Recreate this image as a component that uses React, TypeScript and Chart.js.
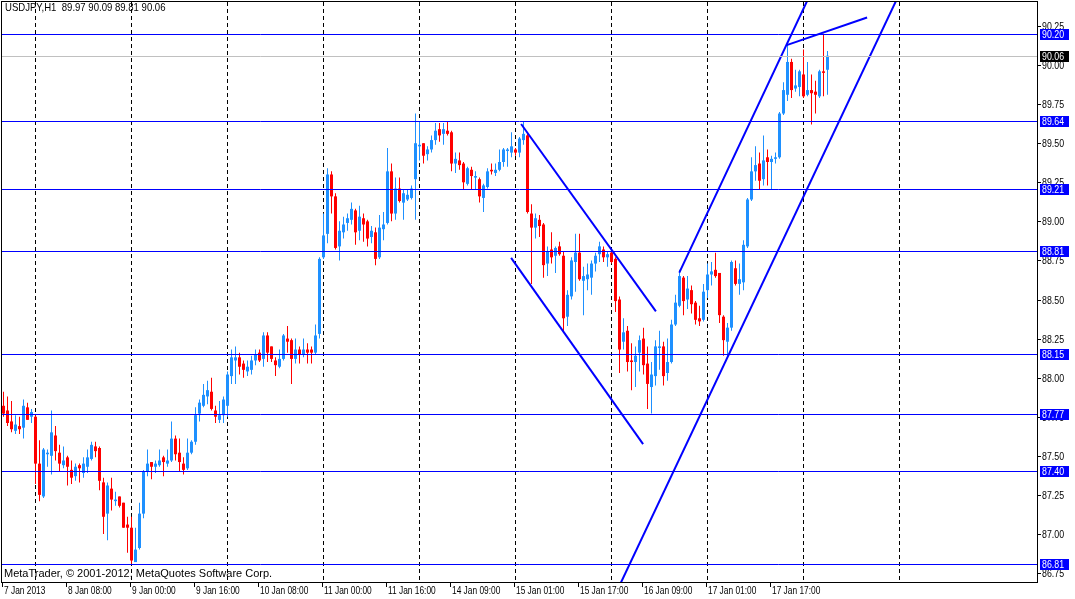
import React, { useEffect, useRef } from "react";
import { Chart, registerables } from "chart.js";

Chart.register(...registerables);

const TITLE = "USDJPY,H1  89.97 90.09 89.81 90.06";
const COPYRIGHT = "MetaTrader, © 2001-2012, MetaQuotes Software Corp.";

const OPEN = [
  87.82, 87.79, 87.72, 87.66, 87.69, 87.68, 87.81, 87.75, 87.75, 87.45,
  87.24, 87.51, 87.5, 87.63, 87.52, 87.44, 87.49, 87.41, 87.37, 87.44,
  87.39, 87.43, 87.48, 87.56, 87.55, 87.33, 87.13, 87.29, 87.21, 87.24,
  87.2, 87.06, 87.04, 86.82, 86.91, 87.13, 87.4, 87.46, 87.43, 87.44,
  87.49, 87.45, 87.47, 87.61, 87.52, 87.45, 87.42, 87.52, 87.59, 87.77,
  87.82, 87.88, 87.91, 87.79, 87.73, 87.76, 87.82, 88.01, 88.11, 88.13,
  88.09, 88.04, 88.05, 88.11, 88.16, 88.12, 88.27, 88.2, 88.11, 88.07,
  88.12, 88.25, 88.24, 88.12, 88.18, 88.15, 88.18, 88.18, 88.16, 88.28,
  88.77, 88.92, 89.3, 89.16, 88.84, 88.93, 88.99, 89.01, 89.07, 88.94,
  89.02, 89.0, 88.9, 88.93, 88.77, 88.95, 88.99, 89.32, 89.05, 89.21,
  89.12, 89.14, 89.15, 89.27, 89.48, 89.5, 89.43, 89.46, 89.52, 89.59,
  89.56, 89.58, 89.57, 89.37, 89.39, 89.37, 89.24, 89.33, 89.28, 89.27,
  89.15, 89.22, 89.33, 89.31, 89.33, 89.38, 89.45, 89.44, 89.46, 89.44,
  89.52, 89.55, 89.05, 88.96, 89.01, 88.98, 88.73, 88.82, 88.78, 88.84,
  88.78, 88.39, 88.52, 88.74, 88.8, 88.62, 88.63, 88.64, 88.73, 88.79,
  88.82, 88.77, 88.8, 88.76, 88.5, 88.23, 88.3, 88.11, 88.1, 88.16,
  88.25, 88.09, 87.94, 88.01, 88.19, 88.2, 88.03, 88.1, 88.34, 88.46,
  88.64, 88.5, 88.56, 88.48, 88.38, 88.37, 88.56, 88.66, 88.69, 88.67,
  88.39, 88.23, 88.32, 88.7, 88.6, 88.61, 88.84, 89.14, 89.32, 89.37,
  89.27, 89.41, 89.38, 89.4, 89.41, 89.69, 89.81, 90.02, 89.85, 89.86,
  89.94, 89.81, 89.84, 89.83, 89.8, 89.96, 89.97,
];

const HIGH = [
  87.91, 87.88, 87.85, 87.76, 87.75, 87.86, 87.84, 87.8, 87.76, 87.6,
  87.55, 87.54, 87.79, 87.69, 87.57, 87.56, 87.5, 87.47, 87.45, 87.45,
  87.49, 87.54, 87.59, 87.59, 87.56, 87.36, 87.33, 87.36, 87.27, 87.24,
  87.2, 87.11, 87.11, 87.04, 87.2, 87.41, 87.54, 87.46, 87.47, 87.54,
  87.5, 87.54, 87.72, 87.63, 87.61, 87.49, 87.61, 87.6, 87.81, 87.86,
  87.96, 87.98, 88.0, 87.82, 87.85, 87.88, 88.04, 88.18, 88.2, 88.16,
  88.11, 88.11, 88.14, 88.18, 88.18, 88.29, 88.29, 88.2, 88.13, 88.18,
  88.28, 88.33, 88.25, 88.25, 88.2, 88.25, 88.22, 88.2, 88.34, 88.77,
  89.05, 89.34, 89.32, 89.18, 89.0, 89.03, 89.05, 89.12, 89.08, 89.1,
  89.05, 89.01, 88.97, 88.96, 89.04, 89.06, 89.47, 89.37, 89.28, 89.28,
  89.2, 89.2, 89.23, 89.69, 89.64, 89.5, 89.48, 89.55, 89.63, 89.63,
  89.63, 89.64, 89.58, 89.44, 89.44, 89.38, 89.35, 89.35, 89.32, 89.28,
  89.24, 89.34, 89.37, 89.37, 89.46, 89.47, 89.47, 89.57, 89.47, 89.54,
  89.64, 89.57, 89.11, 89.05, 89.04, 88.99, 88.84, 88.93, 88.84, 88.87,
  88.81, 88.56, 88.77, 88.92, 88.92, 88.71, 88.73, 88.75, 88.8, 88.87,
  88.84, 88.81, 88.82, 88.77, 88.52, 88.38, 88.33, 88.22, 88.2, 88.27,
  88.32, 88.2, 88.1, 88.24, 88.3, 88.23, 88.25, 88.37, 88.53, 88.69,
  88.65, 88.65, 88.59, 88.49, 88.46, 88.6, 88.73, 88.74, 88.8, 88.67,
  88.4, 88.35, 88.75, 88.75, 88.73, 88.88, 89.15, 89.41, 89.48, 89.44,
  89.55, 89.46, 89.42, 89.44, 89.7, 89.89, 90.13, 90.04, 89.97, 89.97,
  90.1, 90.02, 89.94, 89.9, 89.97, 90.2, 90.09,
];

const LOW = [
  87.75, 87.69, 87.65, 87.64, 87.64, 87.61, 87.73, 87.71, 87.32, 87.21,
  87.23, 87.43, 87.38, 87.47, 87.4, 87.42, 87.31, 87.32, 87.34, 87.33,
  87.36, 87.39, 87.47, 87.49, 87.28, 87.0, 86.96, 87.15, 87.18, 87.17,
  87.04, 86.88, 86.81, 86.82, 86.9, 87.1, 87.37, 87.35, 87.39, 87.43,
  87.37, 87.43, 87.46, 87.47, 87.4, 87.38, 87.41, 87.51, 87.57, 87.72,
  87.81, 87.83, 87.79, 87.71, 87.71, 87.71, 87.75, 87.96, 87.96, 88.02,
  88.0, 88.01, 88.02, 88.08, 88.1, 88.07, 88.1, 88.1, 88.01, 88.06,
  88.11, 88.16, 87.96, 88.09, 88.09, 88.13, 88.09, 88.09, 88.15, 88.25,
  88.76, 88.86, 89.05, 88.82, 88.75, 88.89, 88.94, 88.98, 88.85, 88.88,
  88.87, 88.84, 88.86, 88.72, 88.76, 88.88, 88.98, 89.0, 89.01, 89.12,
  89.01, 89.13, 89.14, 89.01, 89.39, 89.37, 89.39, 89.44, 89.49, 89.51,
  89.49, 89.55, 89.32, 89.31, 89.33, 89.2, 89.23, 89.2, 89.2, 89.12,
  89.06, 89.21, 89.3, 89.29, 89.32, 89.35, 89.35, 89.41, 89.42, 89.41,
  89.49, 89.05, 88.6, 88.89, 88.9, 88.64, 88.65, 88.73, 88.67, 88.78,
  88.29, 88.33, 88.5, 88.55, 88.62, 88.4, 88.56, 88.53, 88.68, 88.74,
  88.74, 88.71, 88.73, 88.42, 88.03, 88.18, 88.04, 87.92, 87.94, 88.04,
  88.02, 87.8, 87.77, 87.95, 88.05, 87.95, 87.98, 88.09, 88.33, 88.45,
  88.4, 88.44, 88.41, 88.34, 88.33, 88.36, 88.51, 88.59, 88.64, 88.35,
  88.14, 88.14, 88.3, 88.59, 88.53, 88.56, 88.83, 89.13, 89.26, 89.2,
  89.23, 89.23, 89.2, 89.37, 89.4, 89.68, 89.77, 89.79, 89.83, 89.8,
  89.79, 89.8, 89.62, 89.69, 89.79, 89.8, 89.81,
];

const CLOSE = [
  87.77, 87.71, 87.67, 87.7, 87.67, 87.82, 87.73, 87.78, 87.45, 87.25,
  87.54, 87.52, 87.65, 87.53, 87.45, 87.47, 87.43, 87.36, 87.43, 87.42,
  87.45, 87.49, 87.57, 87.53, 87.34, 87.11, 87.31, 87.22, 87.22, 87.18,
  87.04, 87.04, 86.83, 86.9, 87.13, 87.4, 87.45, 87.43, 87.45, 87.47,
  87.46, 87.47, 87.61, 87.51, 87.46, 87.41, 87.52, 87.59, 87.76, 87.84,
  87.89, 87.92, 87.8, 87.75, 87.76, 87.86, 88.02, 88.13, 88.13, 88.07,
  88.05, 88.07, 88.11, 88.15, 88.11, 88.27, 88.16, 88.12, 88.08, 88.12,
  88.27, 88.23, 88.12, 88.18, 88.15, 88.18, 88.16, 88.16, 88.27, 88.76,
  88.91, 89.3, 89.16, 88.83, 88.94, 88.98, 89.02, 89.08, 88.93, 89.03,
  88.98, 88.89, 88.94, 88.76, 88.96, 88.98, 89.32, 89.05, 89.21, 89.13,
  89.18, 89.17, 89.21, 89.5, 89.49, 89.42, 89.46, 89.52, 89.58, 89.55,
  89.59, 89.56, 89.37, 89.4, 89.36, 89.25, 89.34, 89.29, 89.29, 89.16,
  89.23, 89.32, 89.32, 89.33, 89.38, 89.46, 89.46, 89.48, 89.44, 89.53,
  89.56, 89.06, 88.96, 89.02, 88.97, 88.72, 88.81, 88.77, 88.83, 88.79,
  88.38, 88.53, 88.75, 88.8, 88.63, 88.65, 88.66, 88.73, 88.78, 88.84,
  88.77, 88.79, 88.74, 88.49, 88.18, 88.29, 88.1, 88.1, 88.14, 88.24,
  88.08, 87.96, 88.02, 88.2, 88.2, 88.01, 88.1, 88.34, 88.48, 88.65,
  88.49, 88.57, 88.47, 88.37, 88.36, 88.55, 88.66, 88.68, 88.65, 88.4,
  88.24, 88.32, 88.74, 88.6, 88.63, 88.85, 89.14, 89.32, 89.36, 89.26,
  89.39, 89.38, 89.4, 89.41, 89.69, 89.84, 90.02, 89.84, 89.87, 89.96,
  89.8, 89.84, 89.82, 89.81, 89.96, 89.95, 90.06,
];

// bar indexes that carry a time label, and the labels
const TIME_INDEX = [0, 16, 32, 48, 64, 80, 96, 112, 128, 144, 160, 176, 192];
const TIME_LABELS = [
  "7 Jan 2013", "8 Jan 08:00", "9 Jan 00:00", "9 Jan 16:00", "10 Jan 08:00",
  "11 Jan 00:00", "11 Jan 16:00", "14 Jan 09:00", "15 Jan 01:00",
  "15 Jan 17:00", "16 Jan 09:00", "17 Jan 01:00", "17 Jan 17:00",
];
// vertical grid (day separators) at these bar indexes
const GRID_INDEX = [8, 32, 56, 80, 104, 128, 152, 176, 200, 224];

const PRICE_TICKS = [
  90.25, 90.0, 89.75, 89.5, 89.25, 89.0, 88.75, 88.5, 88.25, 88.0,
  87.75, 87.5, 87.25, 87.0, 86.75,
];
const LEVELS = [90.2, 89.64, 89.21, 88.81, 88.15, 87.77, 87.4, 86.81];
const BID = 90.06;

// trend lines: [barIndex, price] endpoints
const TREND_LINES: [number, number][][] = [
  [[129.4, 89.623], [163.1, 88.424]],
  [[126.9, 88.766], [159.9, 87.575]],
  [[168.95, 88.672], [201.6, 90.448]],
  [[153.6, 86.648], [223.6, 90.436]],
  [[195.8, 90.128], [215.9, 90.304]],
];

const X_MIN = -0.375;
const X_MAX = 258.375;
const Y_MIN = 86.6926;
const Y_MAX = 90.4036;

const BULL = "#1E90FF";
const BEAR = "#FF0000";
const LEVEL_COLOR = "#0000FF";
const FONT = "11px 'Liberation Sans', Arial, sans-serif";

function drawText(
  ctx: CanvasRenderingContext2D,
  text: string,
  x: number,
  y: number,
  sx: number,
  color: string
) {
  ctx.save();
  ctx.translate(x, y);
  ctx.scale(sx, 1);
  ctx.font = FONT;
  ctx.fillStyle = color;
  ctx.textAlign = "left";
  ctx.textBaseline = "middle";
  ctx.fillText(text, 0, 0);
  ctx.restore();
}

const mtPlugin = {
  id: "mt4Decor",
  beforeDatasetsDraw(chart: any) {
    const { ctx, chartArea: a, scales } = chart;
    const xs = scales.x;
    ctx.save();
    ctx.strokeStyle = "#000000";
    ctx.lineWidth = 1;
    ctx.setLineDash([4, 3]);
    for (const k of GRID_INDEX) {
      const px = Math.floor(xs.getPixelForValue(k)) + 0.5;
      ctx.beginPath();
      ctx.moveTo(px, a.top);
      ctx.lineTo(px, a.bottom);
      ctx.stroke();
    }
    ctx.restore();
  },
  afterDatasetsDraw(chart: any) {
    const { ctx, chartArea: a, scales } = chart;
    const ys = scales.y;
    ctx.save();
    ctx.lineWidth = 1;
    ctx.strokeStyle = "#C0C0C0";
    let py = Math.round(ys.getPixelForValue(BID)) + 0.5;
    ctx.beginPath();
    ctx.moveTo(a.left, py);
    ctx.lineTo(a.right, py);
    ctx.stroke();
    ctx.strokeStyle = LEVEL_COLOR;
    for (const v of LEVELS) {
      py = Math.round(ys.getPixelForValue(v)) + 0.5;
      ctx.beginPath();
      ctx.moveTo(a.left, py);
      ctx.lineTo(a.right, py);
      ctx.stroke();
    }
    ctx.restore();
  },
  afterDraw(chart: any) {
    const { ctx, chartArea: a, scales } = chart;
    const xs = scales.x;
    const ys = scales.y;
    ctx.save();
    // frame
    ctx.strokeStyle = "#000000";
    ctx.lineWidth = 1;
    ctx.strokeRect(a.left - 0.5, a.top - 0.5, a.right - a.left + 1, a.bottom - a.top + 1);

    // price axis
    for (const p of PRICE_TICKS) {
      const py = Math.round(ys.getPixelForValue(p));
      ctx.beginPath();
      ctx.moveTo(a.right + 1, py + 0.5);
      ctx.lineTo(a.right + 4, py + 0.5);
      ctx.stroke();
      drawText(ctx, p.toFixed(2), a.right + 5, py + 1, 0.8, "#000000");
    }
    const boxes: [number, string][] = LEVELS.map((v) => [v, LEVEL_COLOR]);
    boxes.push([BID, "#000000"]);
    for (const [v, c] of boxes) {
      const py = Math.round(ys.getPixelForValue(v));
      ctx.fillStyle = c;
      ctx.fillRect(a.right + 3, py - 5, 29, 11);
      drawText(ctx, v.toFixed(2), a.right + 5, py + 1, 0.8, "#FFFFFF");
    }

    // time axis
    TIME_INDEX.forEach((k, i) => {
      const px = Math.round(xs.getPixelForValue(k)) - 2 + 0.5;
      ctx.strokeStyle = "#000000";
      ctx.beginPath();
      ctx.moveTo(px, a.bottom + 1);
      ctx.lineTo(px, a.bottom + 5);
      ctx.stroke();
      drawText(ctx, TIME_LABELS[i], px + 1.5, a.bottom + 9, 0.76, "#000000");
    });

    // texts
    drawText(ctx, TITLE, a.left + 3, a.top + 6, 0.87, "#000000");
    drawText(ctx, COPYRIGHT, a.left + 2, a.bottom - 8, 1, "#000000");
    ctx.restore();
  },
};

export default function App() {
  const ref = useRef<HTMLCanvasElement | null>(null);

  useEffect(() => {
    if (!ref.current) return;
    const colors = OPEN.map((o, i) => (CLOSE[i] >= o ? BULL : BEAR));
    const wicks = OPEN.map((_, i) => ({ x: i, y: [LOW[i], HIGH[i]] }));
    const bodies = OPEN.map((o, i) => ({ x: i, y: [o, CLOSE[i]] }));

    const lineSets = TREND_LINES.map((seg) => ({
      type: "line" as const,
      data: seg.map(([k, p]) => ({ x: k, y: p })),
      borderColor: LEVEL_COLOR,
      borderWidth: 2,
      pointRadius: 0,
      tension: 0,
      fill: false,
      order: 0,
    }));

    const chart = new Chart(ref.current, {
      type: "bar",
      data: {
        datasets: [
          ...lineSets,
          {
            type: "bar",
            data: bodies as any,
            backgroundColor: colors,
            barThickness: 3,
            minBarLength: 1,
            grouped: false,
            inflateAmount: 0,
            borderWidth: 0,
            order: 1,
          } as any,
          {
            type: "bar",
            data: wicks as any,
            backgroundColor: colors,
            barThickness: 1,
            minBarLength: 1,
            grouped: false,
            inflateAmount: 0,
            borderWidth: 0,
            order: 2,
          } as any,
        ],
      },
      options: {
        animation: false,
        responsive: false,
        events: [],
        layout: { padding: { left: 2, top: 2, right: 38, bottom: 17 } },
        plugins: { legend: { display: false }, tooltip: { enabled: false } },
        scales: {
          x: { type: "linear", min: X_MIN, max: X_MAX, offset: false, display: false },
          y: { type: "linear", min: Y_MIN, max: Y_MAX, display: false },
        },
      },
      plugins: [mtPlugin],
    });
    return () => chart.destroy();
  }, []);

  return (
    <div style={{ position: "fixed", left: 0, top: 0, width: 1075, height: 599, background: "#ffffff" }}>
      <canvas ref={ref} width={1075} height={599} style={{ display: "block" }} />
    </div>
  );
}
